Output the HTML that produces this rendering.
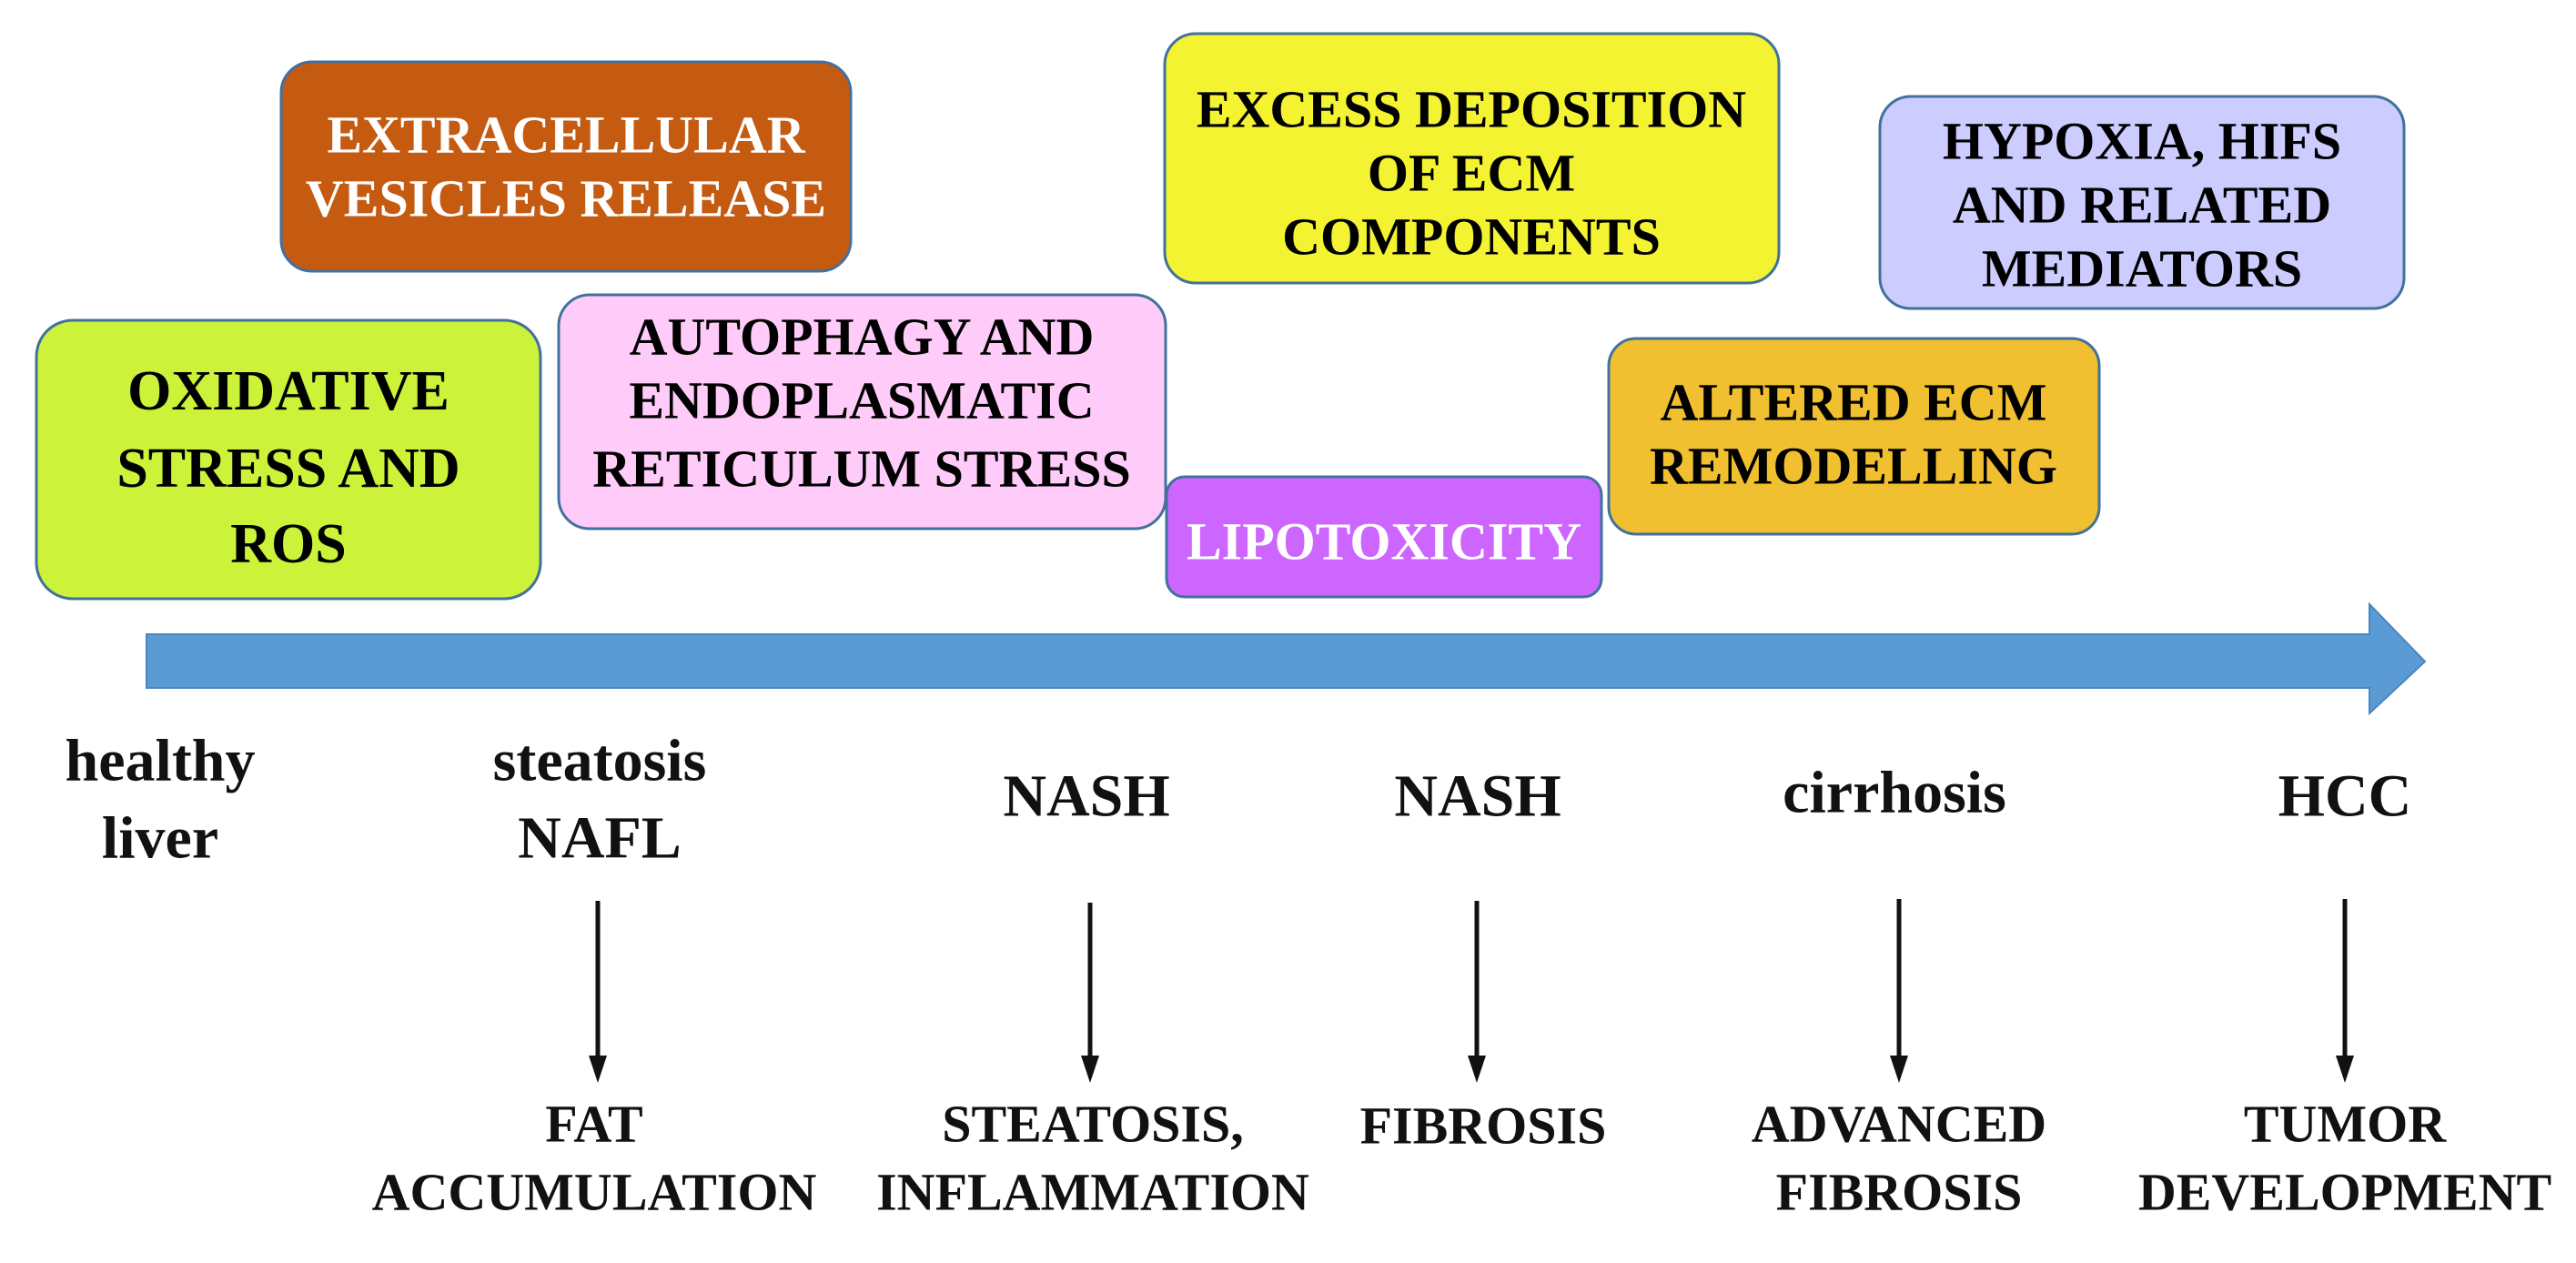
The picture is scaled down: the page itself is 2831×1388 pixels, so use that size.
<!DOCTYPE html>
<html><head><meta charset="utf-8"><style>
html,body{margin:0;padding:0;background:#fff;}
svg{display:block;}
text{font-family:"Liberation Serif",serif;text-anchor:middle;dominant-baseline:central;}
.b{font-weight:bold;font-size:58px;fill:#000;}
.w{fill:#fff;}
.l{font-size:66px;fill:#111;font-weight:bold;}
.c{font-size:58px;fill:#111;font-weight:bold;}
</style></head><body>
<svg width="2831" height="1388" viewBox="0 0 2831 1388" xmlns="http://www.w3.org/2000/svg">
<defs><marker id="ah" markerWidth="10" markerHeight="10" refX="9" refY="5" orient="auto" markerUnits="userSpaceOnUse"><path d="M0,0 L0,0"/></marker></defs>
<g stroke="#41719c" stroke-width="3">
<rect x="309" y="68" width="626" height="230" rx="34" fill="#c55a11"/>
<rect x="1280" y="37" width="675" height="274" rx="34" fill="#f3f332"/>
<rect x="2066" y="106" width="576" height="233" rx="34" fill="#ccccff"/>
<rect x="40" y="352" width="554" height="306" rx="40" fill="#ccf23a"/>
<rect x="614" y="324" width="667" height="257" rx="34" fill="#ffccf9"/>
<rect x="1282" y="524" width="478" height="132" rx="20" fill="#cc66ff"/>
<rect x="1768" y="372" width="539" height="215" rx="30" fill="#f0c030"/>
</g>
<polygon points="161,697 2604,697 2604,664 2665,727 2604,784 2604,756 161,756" fill="#5b9bd5" stroke="#4a86bd" stroke-width="2"/>
<text class="b w" x="622" y="148">EXTRACELLULAR</text>
<text class="b w" x="622" y="218">VESICLES RELEASE</text>
<text class="b" x="317" y="430" style="font-size:62px">OXIDATIVE</text>
<text class="b" x="317" y="515" style="font-size:62px">STRESS AND</text>
<text class="b" x="317" y="598" style="font-size:62px">ROS</text>
<text class="b" x="947" y="370">AUTOPHAGY AND</text>
<text class="b" x="947" y="440">ENDOPLASMATIC</text>
<text class="b" x="947" y="515">RETICULUM STRESS</text>
<text class="b w" x="1521" y="595">LIPOTOXICITY</text>
<text class="b" x="1617" y="120">EXCESS DEPOSITION</text>
<text class="b" x="1617" y="190">OF ECM</text>
<text class="b" x="1617" y="260">COMPONENTS</text>
<text class="b" x="2354" y="155">HYPOXIA, HIFS</text>
<text class="b" x="2354" y="225">AND RELATED</text>
<text class="b" x="2354" y="295">MEDIATORS</text>
<text class="b" x="2037" y="442">ALTERED ECM</text>
<text class="b" x="2037" y="512">REMODELLING</text>

<text class="l" x="176" y="836">healthy</text>
<text class="l" x="176" y="921">liver</text>
<text class="l" x="659" y="836">steatosis</text>
<text class="l" x="659" y="921">NAFL</text>
<text class="l" x="1194" y="875">NASH</text>
<text class="l" x="1624" y="875">NASH</text>
<text class="l" x="2082" y="871">cirrhosis</text>
<text class="l" x="2577" y="875">HCC</text>

<g stroke="#111" stroke-width="5">
<line x1="657" y1="990" x2="657" y2="1165"/>
<line x1="1198" y1="992" x2="1198" y2="1165"/>
<line x1="1623" y1="990" x2="1623" y2="1165"/>
<line x1="2087" y1="988" x2="2087" y2="1165"/>
<line x1="2577" y1="988" x2="2577" y2="1165"/>
</g>
<g fill="#111">
<polygon points="647,1160 667,1160 657,1190"/>
<polygon points="1188,1160 1208,1160 1198,1190"/>
<polygon points="1613,1160 1633,1160 1623,1190"/>
<polygon points="2077,1160 2097,1160 2087,1190"/>
<polygon points="2567,1160 2587,1160 2577,1190"/>
</g>
<text class="c" x="653" y="1235">FAT</text>
<text class="c" x="653" y="1310">ACCUMULATION</text>
<text class="c" x="1201" y="1235">STEATOSIS,</text>
<text class="c" x="1201" y="1310">INFLAMMATION</text>
<text class="c" x="1630" y="1237">FIBROSIS</text>
<text class="c" x="2087" y="1235">ADVANCED</text>
<text class="c" x="2087" y="1310">FIBROSIS</text>
<text class="c" x="2577" y="1235">TUMOR</text>
<text class="c" x="2577" y="1310">DEVELOPMENT</text>
</svg>
</body></html>
